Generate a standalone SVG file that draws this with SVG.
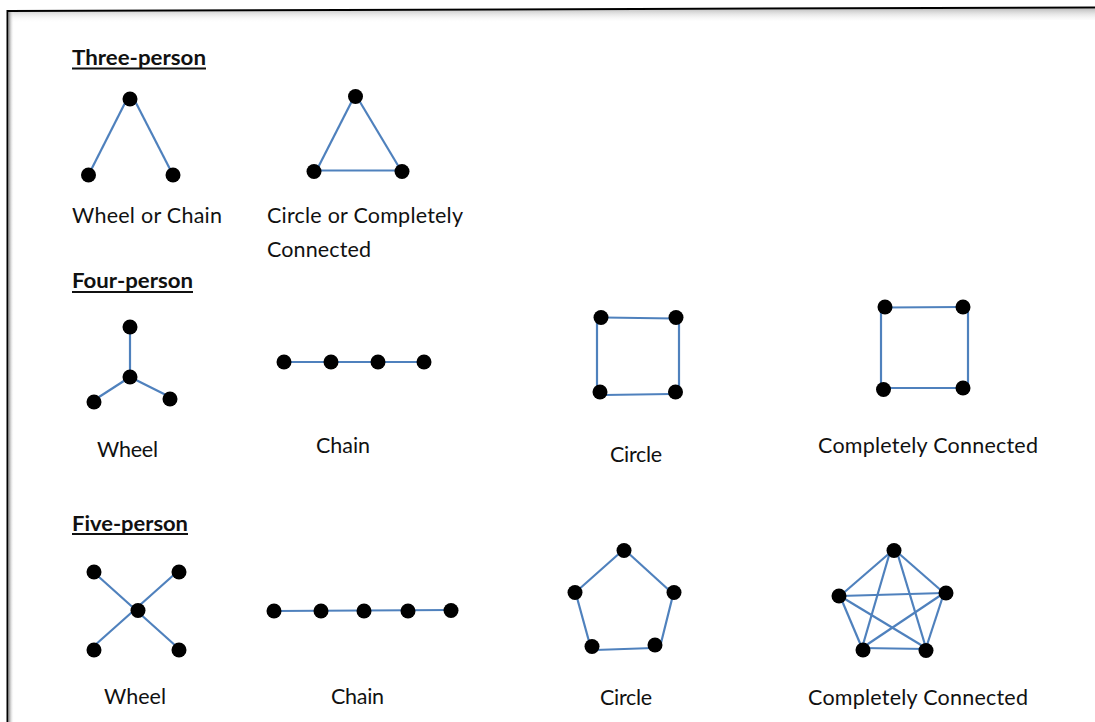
<svg xmlns="http://www.w3.org/2000/svg" width="1095" height="722" viewBox="0 0 1095 722">
  <defs>
    <linearGradient id="shadow" x1="0" y1="0" x2="0" y2="1">
      <stop offset="0" stop-color="#bdbdbd"/>
      <stop offset="1" stop-color="#ffffff" stop-opacity="0"/>
    </linearGradient>
    <linearGradient id="shadowL" x1="0" y1="0" x2="1" y2="0">
      <stop offset="0" stop-color="#9a9a9a"/>
      <stop offset="1" stop-color="#ffffff" stop-opacity="0"/>
    </linearGradient>
  </defs>
  <style>
    .lbl { font-family: Lato, "Open Sans", "Liberation Sans", sans-serif; font-size: 21.5px; fill: #111; }
    .hd { font-family: Lato, "Open Sans", "Liberation Sans", sans-serif; font-size: 21px; font-weight: bold; fill: #111; }
    .ul { stroke: #111; stroke-width: 2; }
    .e { stroke: #4f81bd; stroke-width: 2.2; fill: none; stroke-linecap: butt; }
    .n { fill: #000; }
  </style>
  <rect width="1095" height="722" fill="#fff"/>
  <!-- frame -->
  <g id="frame">
    <polygon points="9,12 1095,8.5 1095,20 9,23" fill="url(#shadow)"/>
    <rect x="9" y="12" width="5" height="710" fill="url(#shadowL)"/>
    <line x1="7.5" y1="11" x2="1095" y2="7.5" stroke="#000" stroke-width="2"/>
    <line x1="7.5" y1="10" x2="7.5" y2="722" stroke="#000" stroke-width="2"/>
  </g>

  <!-- headings -->
  <g id="heading-three">
    <text class="hd" x="72" y="65" textLength="134" lengthAdjust="spacingAndGlyphs">Three-person</text>
    <line class="ul" x1="72" y1="68.5" x2="206" y2="68.5"/>
  </g>
  <g id="heading-four">
    <text class="hd" x="72" y="288" textLength="121" lengthAdjust="spacingAndGlyphs">Four-person</text>
    <line class="ul" x1="72" y1="292" x2="193" y2="292"/>
  </g>
  <g id="heading-five">
    <text class="hd" x="72" y="531" textLength="116" lengthAdjust="spacingAndGlyphs">Five-person</text>
    <line class="ul" x1="72" y1="534" x2="188" y2="534"/>
  </g>

  <!-- connectors -->
  <g id="connectors">
    <!-- three: wheel or chain -->
    <line class="e" x1="126" y1="101" x2="89" y2="174"/>
    <line class="e" x1="135" y1="101" x2="173" y2="175"/>
    <!-- three: triangle -->
    <line class="e" x1="354" y1="97" x2="316.5" y2="170.5"/>
    <line class="e" x1="357" y1="97" x2="401" y2="170.5"/>
    <line class="e" x1="316.5" y1="170.5" x2="401" y2="170.5"/>
    <!-- four: wheel -->
    <line class="e" x1="130" y1="328" x2="130" y2="377"/>
    <line class="e" x1="130" y1="377" x2="99" y2="397"/>
    <line class="e" x1="130" y1="377" x2="168" y2="396"/>
    <!-- four: chain -->
    <line class="e" x1="285" y1="362" x2="424" y2="362"/>
    <!-- four: circle -->
    <line class="e" x1="604" y1="317.5" x2="674" y2="318.5"/>
    <line class="e" x1="679" y1="319" x2="679" y2="392"/>
    <line class="e" x1="604" y1="395" x2="671" y2="394"/>
    <line class="e" x1="597" y1="318" x2="597" y2="392"/>
    <!-- four: completely connected -->
    <line class="e" x1="886" y1="307.5" x2="962" y2="307"/>
    <line class="e" x1="968" y1="308" x2="968" y2="388"/>
    <line class="e" x1="885" y1="388" x2="962" y2="388"/>
    <line class="e" x1="881" y1="308" x2="881" y2="389"/>
    <!-- five: wheel -->
    <line class="e" x1="99" y1="577" x2="177" y2="647"/>
    <line class="e" x1="177" y1="572" x2="94" y2="646"/>
    <!-- five: chain -->
    <line class="e" x1="275" y1="611" x2="451" y2="610"/>
    <!-- five: circle -->
    <line class="e" x1="622" y1="551" x2="577" y2="591"/>
    <line class="e" x1="626" y1="551" x2="671" y2="592"/>
    <line class="e" x1="673" y1="595" x2="661" y2="643"/>
    <line class="e" x1="653" y1="648" x2="595" y2="650"/>
    <line class="e" x1="590" y1="645" x2="576" y2="594"/>
    <!-- five: completely connected -->
    <line class="e" x1="892" y1="551" x2="840" y2="596"/>
    <line class="e" x1="896" y1="551" x2="944" y2="593"/>
    <line class="e" x1="890" y1="552" x2="862" y2="648"/>
    <line class="e" x1="897" y1="552" x2="926" y2="648"/>
    <line class="e" x1="840" y1="596" x2="944" y2="593"/>
    <line class="e" x1="840" y1="596" x2="862" y2="648"/>
    <line class="e" x1="840" y1="596" x2="926" y2="648"/>
    <line class="e" x1="944" y1="593" x2="862" y2="648"/>
    <line class="e" x1="944" y1="593" x2="926" y2="648"/>
    <line class="e" x1="862" y1="648" x2="926" y2="649"/>
  </g>

  <!-- three-person: wheel or chain -->
  <g id="three-wheel-chain">
    <circle class="n" cx="130" cy="99" r="7.5"/>
    <circle class="n" cx="88.5" cy="175" r="7.5"/>
    <circle class="n" cx="173" cy="175" r="7.5"/>
    <text class="lbl" x="72" y="223" textLength="150">Wheel or Chain</text>
  </g>
  <g id="three-circle-complete">
    <circle class="n" cx="355.5" cy="96.5" r="7.5"/>
    <circle class="n" cx="314" cy="171.5" r="7.5"/>
    <circle class="n" cx="402" cy="171.5" r="7.5"/>
    <text class="lbl" x="267" y="223" textLength="196">Circle or Completely</text>
    <text class="lbl" x="267" y="256.5" textLength="104">Connected</text>
  </g>

  <!-- four-person -->
  <g id="four-wheel">
    <circle class="n" cx="130" cy="327" r="7.5"/>
    <circle class="n" cx="130" cy="377" r="7.5"/>
    <circle class="n" cx="94" cy="402" r="7.5"/>
    <circle class="n" cx="170" cy="399" r="7.5"/>
    <text class="lbl" x="97" y="457" textLength="61">Wheel</text>
  </g>
  <g id="four-chain">
    <circle class="n" cx="284" cy="362" r="7.5"/>
    <circle class="n" cx="331" cy="362" r="7.5"/>
    <circle class="n" cx="378" cy="362" r="7.5"/>
    <circle class="n" cx="424" cy="362" r="7.5"/>
    <text class="lbl" x="316" y="453" textLength="54">Chain</text>
  </g>
  <g id="four-circle">
    <circle class="n" cx="601" cy="317.5" r="7.5"/>
    <circle class="n" cx="676" cy="317.5" r="7.5"/>
    <circle class="n" cx="600" cy="392" r="7.5"/>
    <circle class="n" cx="675.5" cy="392" r="7.5"/>
    <text class="lbl" x="610" y="462" textLength="52">Circle</text>
  </g>
  <g id="four-complete">
    <circle class="n" cx="885" cy="307" r="7.5"/>
    <circle class="n" cx="963" cy="307" r="7.5"/>
    <circle class="n" cx="883.5" cy="389.5" r="7.5"/>
    <circle class="n" cx="963" cy="388" r="7.5"/>
    <text class="lbl" x="818" y="453" textLength="220">Completely Connected</text>
  </g>

  <!-- five-person -->
  <g id="five-wheel">
    <circle class="n" cx="94" cy="572" r="7.5"/>
    <circle class="n" cx="179" cy="572" r="7.5"/>
    <circle class="n" cx="138" cy="610.5" r="7.5"/>
    <circle class="n" cx="94" cy="650" r="7.5"/>
    <circle class="n" cx="179" cy="650" r="7.5"/>
    <text class="lbl" x="104" y="704" textLength="62">Wheel</text>
  </g>
  <g id="five-chain">
    <circle class="n" cx="274" cy="611" r="7.5"/>
    <circle class="n" cx="321" cy="611" r="7.5"/>
    <circle class="n" cx="364" cy="611" r="7.5"/>
    <circle class="n" cx="408" cy="611" r="7.5"/>
    <circle class="n" cx="451" cy="610.5" r="7.5"/>
    <text class="lbl" x="331" y="704" textLength="53">Chain</text>
  </g>
  <g id="five-circle">
    <circle class="n" cx="624" cy="550.5" r="7.5"/>
    <circle class="n" cx="575" cy="592.5" r="7.5"/>
    <circle class="n" cx="674" cy="592.5" r="7.5"/>
    <circle class="n" cx="592" cy="646.5" r="7.5"/>
    <circle class="n" cx="655" cy="645" r="7.5"/>
    <text class="lbl" x="600" y="705" textLength="52">Circle</text>
  </g>
  <g id="five-complete">
    <circle class="n" cx="894" cy="550.5" r="7.5"/>
    <circle class="n" cx="839" cy="596" r="7.5"/>
    <circle class="n" cx="946" cy="593" r="7.5"/>
    <circle class="n" cx="863" cy="650" r="7.5"/>
    <circle class="n" cx="926" cy="650.5" r="7.5"/>
    <text class="lbl" x="808" y="705" textLength="220">Completely Connected</text>
  </g>
</svg>
